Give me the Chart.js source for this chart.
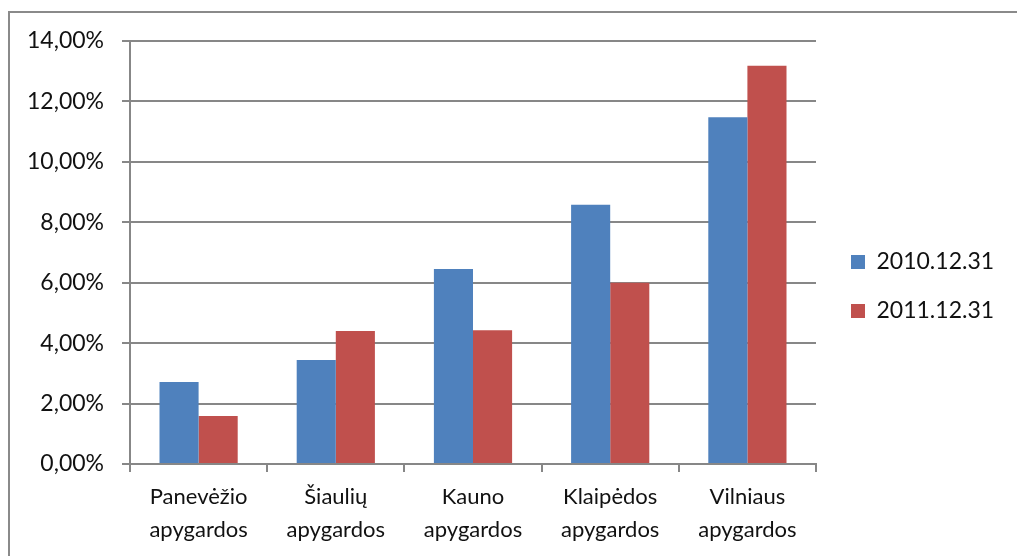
<!DOCTYPE html>
<html>
<head>
<meta charset="utf-8">
<script src="https://cdn.jsdelivr.net/npm/chart.js@4/dist/chart.umd.min.js"></script>
<style>
    html, body { margin: 0; padding: 0; background: #fff; }
    #wrap { position: relative; width: 1017px; height: 556px; overflow: hidden; }
    #frame {
        position: absolute; left: 8px; top: 11px; right: -10px; bottom: -10px;
        border-left: 2px solid #8a8a8a; border-top: 2px solid #8a8a8a;
    }
    #chart { position: absolute; left: 0; top: 0; }
</style>
</head>
<body>
<div id="wrap">
    <div id="frame"></div>
    <canvas id="chart" width="1017" height="556"></canvas>
</div>
<script>
const categories = [
    ['Panevėžio', 'apygardos'],
    ['Šiaulių', 'apygardos'],
    ['Kauno', 'apygardos'],
    ['Klaipėdos', 'apygardos'],
    ['Vilniaus', 'apygardos']
];
const seriesNames = ['2010.12.31', '2011.12.31'];
const values2010 = [2.71, 3.44, 6.45, 8.58, 11.48];
const values2011 = [1.59, 4.40, 4.43, 6.00, 13.18];

const FONT = 'Lato, "Open Sans", sans-serif';
const TEXT = '#111';
const GRID = '#878787';

// keep the legend column the same width as in the reference and nudge it into place
const legendPlace = {
    id: 'legendPlace',
    beforeLayout(chart) {
        const legend = chart.legend;
        if (legend && !legend._fixed) {
            const fit = legend.fit;
            legend.fit = function () {
                fit.call(this);
                this.width = 201;
            };
            legend._fixed = true;
        }
    },
    afterLayout(chart) {
        const legend = chart.legend;
        legend.left += 9;
        legend.right += 9;
        legend.top -= 12;
        legend.bottom -= 12;
    }
};

const ctx = document.getElementById('chart').getContext('2d');
new Chart(ctx, {
    type: 'bar',
    data: {
        labels: categories,
        datasets: [
            { label: seriesNames[0], data: values2010, backgroundColor: '#4f81bd' },
            { label: seriesNames[1], data: values2011, backgroundColor: '#c0504d' }
        ]
    },
    options: {
        responsive: false,
        animation: false,
        layout: { padding: { top: 41, left: 0, right: 0, bottom: 0 } },
        categoryPercentage: 0.57,
        barPercentage: 1.0,
        plugins: {
            legend: {
                position: 'right',
                labels: {
                    boxWidth: 14,
                    boxHeight: 14,
                    padding: 26,
                    color: TEXT,
                    font: { family: FONT, size: 23 }
                }
            },
            tooltip: { enabled: false }
        },
        scales: {
            x: {
                offset: true,
                grid: {
                    offset: true,
                    drawOnChartArea: false,
                    color: GRID,
                    lineWidth: 2,
                    tickLength: 8
                },
                border: { color: GRID, width: 2 },
                ticks: {
                    color: TEXT,
                    padding: 8,
                    maxRotation: 0,
                    font: { family: FONT, size: 22, lineHeight: 1.5 }
                },
                afterFit: (scale) => { scale.height = 92; }
            },
            y: {
                min: 0,
                max: 14,
                ticks: {
                    stepSize: 2,
                    color: TEXT,
                    padding: 18,
                    font: { family: FONT, size: 23 },
                    callback: (v) => v.toFixed(2).replace('.', ',') + '%'
                },
                grid: { color: GRID, lineWidth: 2, tickLength: 8 },
                border: { color: GRID, width: 2 },
                afterFit: (scale) => { scale.width = 130; }
            }
        }
    },
    plugins: [legendPlace]
});
</script>
</body>
</html>
